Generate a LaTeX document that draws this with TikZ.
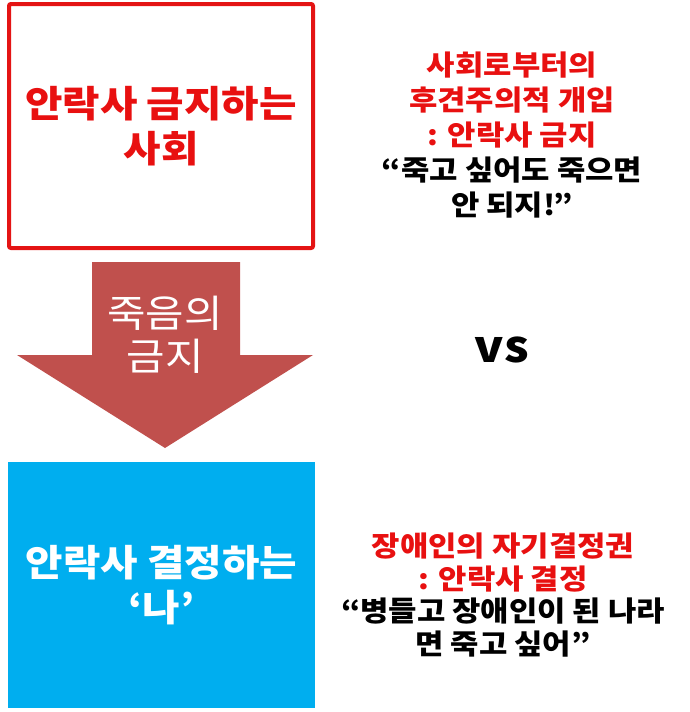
\documentclass[tikz,border=0pt]{standalone}
\usepackage{fontspec}
\setmainfont{Noto Sans CJK KR}[FakeStretch=1.1]
\usetikzlibrary{positioning}

\definecolor{boxred}{HTML}{E41414}
\definecolor{txtred}{HTML}{E81010}
\definecolor{arrowred}{HTML}{C0504D}
\definecolor{boxblue}{HTML}{00AEEF}

\tikzset{bigbox/.style={minimum width=304pt,minimum height=244pt,align=center,font=\bfseries\fontsize{37}{45}\selectfont}}
\tikzset{sidetext/.style={align=center,font=\bfseries\fontsize{28}{35}\selectfont}}

\begin{document}
\begin{tikzpicture}[x=1pt,y=-1pt]
        \useasboundingbox (0,0) rectangle (689,712);
        % the two boxes
        \node[bigbox,draw=boxred,line width=4pt,rounded corners=2pt,text=txtred] (society) at (161,126) {안락사 금지하는\\사회};
        \node[bigbox,fill=boxblue,minimum width=307pt,minimum height=246pt,text=white] (me) at (161.5,585) {안락사 결정하는\\‘나’};
        % the block arrow between them
        \coordinate (tip) at (165,448);
        \fill[arrowred] (92,262) -- (240,262) -- (240,355) -- (313,355) -- (tip) -- (17,355) -- (92,355) -- cycle;
        \node[align=center,text=white,font=\fontsize{38}{43}\selectfont] (ban) at (165,335) {죽음의\\금지};
        % texts on the right
        \node[sidetext] (paternal) at (512,135) {\textcolor{txtred}{사회로부터의}\\\textcolor{txtred}{후견주의적 개입}\\\textcolor{txtred}{: 안락사 금지}\\“죽고 싶어도 죽으면\\안 되지!”};
        \node[font=\bfseries\fontsize{44}{50}\selectfont] (vs) at (502,350) {vs};
        \node[sidetext,font=\bfseries\fontsize{28}{32.5}\selectfont] (selfdet) at (503,595) {\textcolor{txtred}{장애인의 자기결정권}\\\textcolor{txtred}{: 안락사 결정}\\“병들고 장애인이 된 나라\\면 죽고 싶어”};
    \end{tikzpicture}
\end{document}
